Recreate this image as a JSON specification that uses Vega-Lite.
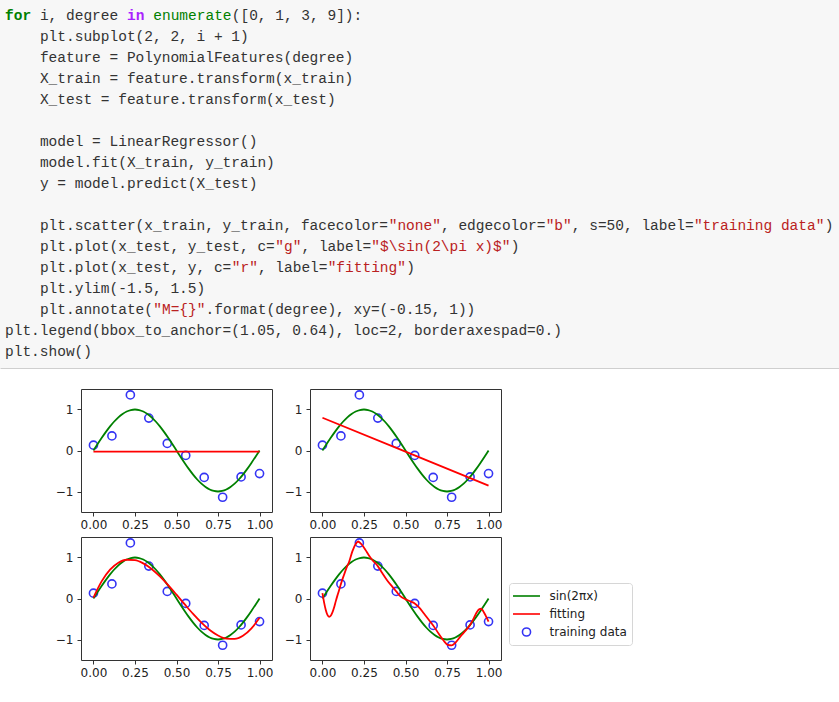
{
  "$schema": "https://vega.github.io/schema/vega-lite/v6.json",
  "background": "white",
  "padding": 0,
  "bounds": "flush",
  "spacing": 21,
  "resolve": {"scale": {"color": "independent", "shape": "independent"}},
  "config": {
    "view": {"stroke": "#333333", "strokeWidth": 1},
    "axis": {"grid": false, "domain": false, "tickColor": "#333333", "tickSize": 4, "labelFont": "DejaVu Sans", "labelFontSize": 12, "labelColor": "#222222"}
  },
  "datasets": {
    "code": [
      {"l": 0, "c": 0, "s": "for", "t": "k"},
      {"l": 0, "c": 4, "s": "i, degree", "t": "n"},
      {"l": 0, "c": 14, "s": "in", "t": "o"},
      {"l": 0, "c": 17, "s": "enumerate", "t": "b"},
      {"l": 0, "c": 26, "s": "([0, 1, 3, 9]):", "t": "n"},
      {"l": 1, "c": 4, "s": "plt.subplot(2, 2, i + 1)", "t": "n"},
      {"l": 2, "c": 4, "s": "feature = PolynomialFeatures(degree)", "t": "n"},
      {"l": 3, "c": 4, "s": "X_train = feature.transform(x_train)", "t": "n"},
      {"l": 4, "c": 4, "s": "X_test = feature.transform(x_test)", "t": "n"},
      {"l": 6, "c": 4, "s": "model = LinearRegressor()", "t": "n"},
      {"l": 7, "c": 4, "s": "model.fit(X_train, y_train)", "t": "n"},
      {"l": 8, "c": 4, "s": "y = model.predict(X_test)", "t": "n"},
      {"l": 10, "c": 4, "s": "plt.scatter(x_train, y_train, facecolor=", "t": "n"},
      {"l": 10, "c": 44, "s": "\"none\"", "t": "s"},
      {"l": 10, "c": 50, "s": ", edgecolor=", "t": "n"},
      {"l": 10, "c": 62, "s": "\"b\"", "t": "s"},
      {"l": 10, "c": 65, "s": ", s=50, label=", "t": "n"},
      {"l": 10, "c": 79, "s": "\"training data\"", "t": "s"},
      {"l": 10, "c": 94, "s": ")", "t": "n"},
      {"l": 11, "c": 4, "s": "plt.plot(x_test, y_test, c=", "t": "n"},
      {"l": 11, "c": 31, "s": "\"g\"", "t": "s"},
      {"l": 11, "c": 34, "s": ", label=", "t": "n"},
      {"l": 11, "c": 42, "s": "\"$\\sin(2\\pi x)$\"", "t": "s"},
      {"l": 11, "c": 58, "s": ")", "t": "n"},
      {"l": 12, "c": 4, "s": "plt.plot(x_test, y, c=", "t": "n"},
      {"l": 12, "c": 26, "s": "\"r\"", "t": "s"},
      {"l": 12, "c": 29, "s": ", label=", "t": "n"},
      {"l": 12, "c": 37, "s": "\"fitting\"", "t": "s"},
      {"l": 12, "c": 46, "s": ")", "t": "n"},
      {"l": 13, "c": 4, "s": "plt.ylim(-1.5, 1.5)", "t": "n"},
      {"l": 14, "c": 4, "s": "plt.annotate(", "t": "n"},
      {"l": 14, "c": 17, "s": "\"M={}\"", "t": "s"},
      {"l": 14, "c": 23, "s": ".format(degree), xy=(-0.15, 1))", "t": "n"},
      {"l": 15, "c": 0, "s": "plt.legend(bbox_to_anchor=(1.05, 0.64), loc=2, borderaxespad=0.)", "t": "n"},
      {"l": 16, "c": 0, "s": "plt.show()", "t": "n"}
    ],
    "train": [
      {"x": 0, "y": 0.13}, {"x": 0.1111, "y": 0.356}, {"x": 0.2222, "y": 1.356}, {"x": 0.3333, "y": 0.79},
      {"x": 0.4444, "y": 0.173}, {"x": 0.5556, "y": -0.12}, {"x": 0.6667, "y": -0.657}, {"x": 0.7778, "y": -1.14},
      {"x": 0.8889, "y": -0.644}, {"x": 1, "y": -0.563}
    ],
    "sin": [
      {"x": 0, "y": 0}, {"x": 0.025, "y": 0.1564}, {"x": 0.05, "y": 0.309}, {"x": 0.075, "y": 0.454},
      {"x": 0.1, "y": 0.5878}, {"x": 0.125, "y": 0.7071}, {"x": 0.15, "y": 0.809}, {"x": 0.175, "y": 0.891},
      {"x": 0.2, "y": 0.9511}, {"x": 0.225, "y": 0.9877}, {"x": 0.25, "y": 1}, {"x": 0.275, "y": 0.9877},
      {"x": 0.3, "y": 0.9511}, {"x": 0.325, "y": 0.891}, {"x": 0.35, "y": 0.809}, {"x": 0.375, "y": 0.7071},
      {"x": 0.4, "y": 0.5878}, {"x": 0.425, "y": 0.454}, {"x": 0.45, "y": 0.309}, {"x": 0.475, "y": 0.1564},
      {"x": 0.5, "y": 0}, {"x": 0.525, "y": -0.1564}, {"x": 0.55, "y": -0.309}, {"x": 0.575, "y": -0.454},
      {"x": 0.6, "y": -0.5878}, {"x": 0.625, "y": -0.7071}, {"x": 0.65, "y": -0.809}, {"x": 0.675, "y": -0.891},
      {"x": 0.7, "y": -0.9511}, {"x": 0.725, "y": -0.9877}, {"x": 0.75, "y": -1}, {"x": 0.775, "y": -0.9877},
      {"x": 0.8, "y": -0.9511}, {"x": 0.825, "y": -0.891}, {"x": 0.85, "y": -0.809}, {"x": 0.875, "y": -0.7071},
      {"x": 0.9, "y": -0.5878}, {"x": 0.925, "y": -0.454}, {"x": 0.95, "y": -0.309}, {"x": 0.975, "y": -0.1564},
      {"x": 1, "y": 0}
    ],
    "fit0": [{"x": 0, "y": -0.025}, {"x": 1, "y": -0.025}],
    "fit1": [{"x": 0, "y": 0.798}, {"x": 0.5, "y": -0.028}, {"x": 1, "y": -0.856}],
    "fit3": [
      {"x": 0, "y": 0.024}, {"x": 0.05, "y": 0.423}, {"x": 0.1, "y": 0.702}, {"x": 0.15, "y": 0.871},
      {"x": 0.2, "y": 0.945}, {"x": 0.25, "y": 0.936}, {"x": 0.3, "y": 0.856}, {"x": 0.35, "y": 0.72},
      {"x": 0.4, "y": 0.538}, {"x": 0.45, "y": 0.325}, {"x": 0.5, "y": 0.093}, {"x": 0.55, "y": -0.145},
      {"x": 0.6, "y": -0.377}, {"x": 0.65, "y": -0.589}, {"x": 0.7, "y": -0.768}, {"x": 0.75, "y": -0.903},
      {"x": 0.8, "y": -0.98}, {"x": 0.85, "y": -0.986}, {"x": 0.9, "y": -0.908}, {"x": 0.95, "y": -0.734},
      {"x": 1, "y": -0.47}
    ],
    "fit9": [
      {"x": 0, "y": 0.13}, {"x": 0.01, "y": -0.1}, {"x": 0.02, "y": -0.28}, {"x": 0.03, "y": -0.4},
      {"x": 0.04, "y": -0.445}, {"x": 0.05, "y": -0.42}, {"x": 0.06, "y": -0.34}, {"x": 0.07, "y": -0.22},
      {"x": 0.08, "y": -0.07}, {"x": 0.09, "y": 0.07}, {"x": 0.1, "y": 0.2}, {"x": 0.1111, "y": 0.356},
      {"x": 0.13, "y": 0.58}, {"x": 0.15, "y": 0.8}, {"x": 0.16, "y": 0.89}, {"x": 0.18, "y": 1.15},
      {"x": 0.2, "y": 1.33}, {"x": 0.215, "y": 1.39}, {"x": 0.2222, "y": 1.37}, {"x": 0.24, "y": 1.3},
      {"x": 0.26, "y": 1.18}, {"x": 0.28, "y": 1.05}, {"x": 0.3, "y": 0.94}, {"x": 0.3333, "y": 0.79},
      {"x": 0.36, "y": 0.62}, {"x": 0.39, "y": 0.44}, {"x": 0.42, "y": 0.29}, {"x": 0.4444, "y": 0.173},
      {"x": 0.47, "y": 0.05}, {"x": 0.5, "y": -0.02}, {"x": 0.53, "y": -0.07}, {"x": 0.5556, "y": -0.12},
      {"x": 0.58, "y": -0.21}, {"x": 0.61, "y": -0.36}, {"x": 0.64, "y": -0.52}, {"x": 0.6667, "y": -0.657},
      {"x": 0.7, "y": -0.86}, {"x": 0.73, "y": -1.03}, {"x": 0.755, "y": -1.13}, {"x": 0.7778, "y": -1.142},
      {"x": 0.8, "y": -1.08}, {"x": 0.83, "y": -0.93}, {"x": 0.86, "y": -0.79}, {"x": 0.8889, "y": -0.644},
      {"x": 0.91, "y": -0.49}, {"x": 0.93, "y": -0.33}, {"x": 0.945, "y": -0.26}, {"x": 0.955, "y": -0.25},
      {"x": 0.965, "y": -0.29}, {"x": 0.975, "y": -0.36}, {"x": 0.99, "y": -0.48}, {"x": 1, "y": -0.563}
    ]
  },
  "vconcat": [
    {
      "width": 839,
      "height": 368,
      "view": {"fill": "#f7f7f7", "stroke": null},
      "data": {"name": "code"},
      "encoding": {
        "x": {"field": "c", "type": "quantitative", "scale": {"domain": [-0.573, 95.64], "nice": false, "zero": false},
              "axis": {"orient": "bottom", "domain": true, "domainColor": "#cfcfcf", "ticks": false, "labels": false, "title": null}},
        "y": {"field": "l", "type": "quantitative", "scale": {"domain": [-0.762, 16.762], "nice": false, "zero": false, "reverse": true}, "axis": null},
        "text": {"field": "s"},
        "color": {"field": "t", "type": "nominal", "scale": {"domain": ["n", "s", "b", "k", "o"], "range": ["#333333", "#BA2121", "#008000", "#008000", "#AA22FF"]}, "legend": null}
      },
      "layer": [
        {"transform": [{"filter": "datum.t != 'k' && datum.t != 'o'"}],
         "mark": {"type": "text", "align": "left", "baseline": "middle", "font": "Liberation Mono", "fontSize": 14.5}},
        {"transform": [{"filter": "datum.t == 'k' || datum.t == 'o'"}],
         "mark": {"type": "text", "align": "left", "baseline": "middle", "font": "Liberation Mono", "fontSize": 14.5, "fontWeight": "bold"}}
      ]
    },
    {
      "columns": 3,
      "spacing": {"row": 25, "column": 38},
      "bounds": "flush",
      "resolve": {"scale": {"color": "independent", "shape": "independent"}},
      "concat": [
        {"width": 43, "height": 123, "view": {"stroke": null}, "data": {"values": []}, "mark": "point"},
        {
          "width": 191, "height": 123,
          "encoding": {
            "x": {"field": "x", "type": "quantitative", "scale": {"domain": [-0.075, 1.075], "nice": false, "zero": false}, "axis": {"values": [0, 0.25, 0.5, 0.75, 1], "format": ".2f", "title": null, "labelPadding": 3}},
            "y": {"field": "y", "type": "quantitative", "scale": {"domain": [-1.5, 1.5], "nice": false, "zero": false}, "axis": {"values": [-1, 0, 1], "format": "d", "title": null, "labelPadding": 4}}
          },
          "layer": [
            {"data": {"name": "train"}, "mark": {"type": "point", "shape": "M-0.3,0A0.3,0.3,0,1,0,0.3,0A0.3,0.3,0,1,0,-0.3,0Z", "size": 729, "filled": false, "color": "#3434f4", "strokeWidth": 1.6, "opacity": 1}},
            {"data": {"name": "sin"}, "mark": {"type": "line", "color": "#008000", "strokeWidth": 1.8, "interpolate": "monotone"}},
            {"data": {"name": "fit0"}, "mark": {"type": "line", "color": "#ff0000", "strokeWidth": 1.8}}
          ]
        },
        {
          "width": 191, "height": 123,
          "encoding": {
            "x": {"field": "x", "type": "quantitative", "scale": {"domain": [-0.075, 1.075], "nice": false, "zero": false}, "axis": {"values": [0, 0.25, 0.5, 0.75, 1], "format": ".2f", "title": null, "labelPadding": 3}},
            "y": {"field": "y", "type": "quantitative", "scale": {"domain": [-1.5, 1.5], "nice": false, "zero": false}, "axis": {"values": [-1, 0, 1], "format": "d", "title": null, "labelPadding": 4}}
          },
          "layer": [
            {"data": {"name": "train"}, "mark": {"type": "point", "shape": "M-0.3,0A0.3,0.3,0,1,0,0.3,0A0.3,0.3,0,1,0,-0.3,0Z", "size": 729, "filled": false, "color": "#3434f4", "strokeWidth": 1.6, "opacity": 1}},
            {"data": {"name": "sin"}, "mark": {"type": "line", "color": "#008000", "strokeWidth": 1.8, "interpolate": "monotone"}},
            {"data": {"name": "fit1"}, "mark": {"type": "line", "color": "#ff0000", "strokeWidth": 1.8}}
          ]
        },
        {"width": 43, "height": 123, "view": {"stroke": null}, "data": {"values": []}, "mark": "point"},
        {
          "width": 191, "height": 123,
          "encoding": {
            "x": {"field": "x", "type": "quantitative", "scale": {"domain": [-0.075, 1.075], "nice": false, "zero": false}, "axis": {"values": [0, 0.25, 0.5, 0.75, 1], "format": ".2f", "title": null, "labelPadding": 3}},
            "y": {"field": "y", "type": "quantitative", "scale": {"domain": [-1.5, 1.5], "nice": false, "zero": false}, "axis": {"values": [-1, 0, 1], "format": "d", "title": null, "labelPadding": 4}}
          },
          "layer": [
            {"data": {"name": "train"}, "mark": {"type": "point", "shape": "M-0.3,0A0.3,0.3,0,1,0,0.3,0A0.3,0.3,0,1,0,-0.3,0Z", "size": 729, "filled": false, "color": "#3434f4", "strokeWidth": 1.6, "opacity": 1}},
            {"data": {"name": "sin"}, "mark": {"type": "line", "color": "#008000", "strokeWidth": 1.8, "interpolate": "monotone"}},
            {"data": {"name": "fit3"}, "mark": {"type": "line", "color": "#ff0000", "strokeWidth": 1.8, "interpolate": "monotone"}}
          ]
        },
        {
          "width": 191, "height": 123,
          "encoding": {
            "x": {"field": "x", "type": "quantitative", "scale": {"domain": [-0.075, 1.075], "nice": false, "zero": false}, "axis": {"values": [0, 0.25, 0.5, 0.75, 1], "format": ".2f", "title": null, "labelPadding": 3}},
            "y": {"field": "y", "type": "quantitative", "scale": {"domain": [-1.5, 1.5], "nice": false, "zero": false}, "axis": {"values": [-1, 0, 1], "format": "d", "title": null, "labelPadding": 4}}
          },
          "layer": [
            {"data": {"name": "train"},
             "mark": {"type": "point", "size": 182, "filled": false, "strokeWidth": 1.6, "opacity": 1},
             "encoding": {
               "color": {"datum": "training data", "scale": {"domain": ["sin(2πx)", "fitting", "training data"], "range": ["#008000", "#ff0000", "#3434f4"]},
                         "legend": {"orient": "none", "legendX": 199, "legendY": 46, "title": null, "padding": 5, "strokeColor": "#d6d6d6", "fillColor": "#ffffff", "cornerRadius": 3, "labelFont": "DejaVu Sans", "labelFontSize": 12, "labelColor": "#222222", "labelOffset": 15, "symbolOffset": 4.5, "symbolSize": 182, "symbolStrokeWidth": 1.6, "rowPadding": 4, "symbolFillColor": "transparent"}},
               "shape": {"datum": "training data", "scale": {"domain": ["sin(2πx)", "fitting", "training data"], "range": ["M-2,0H2", "M-2,0H2", "M-0.6,0A0.6,0.6,0,1,0,0.6,0A0.6,0.6,0,1,0,-0.6,0Z"]},
                         "legend": {"orient": "none", "legendX": 199, "legendY": 46, "title": null, "padding": 5, "strokeColor": "#d6d6d6", "fillColor": "#ffffff", "cornerRadius": 3, "labelFont": "DejaVu Sans", "labelFontSize": 12, "labelColor": "#222222", "labelOffset": 15, "symbolOffset": 4.5, "symbolSize": 182, "symbolStrokeWidth": 1.6, "rowPadding": 4, "symbolFillColor": "transparent"}}
             }},
            {"data": {"name": "sin"}, "mark": {"type": "line", "strokeWidth": 1.8, "interpolate": "monotone"},
             "encoding": {"color": {"datum": "sin(2πx)", "scale": {"domain": ["sin(2πx)", "fitting", "training data"], "range": ["#008000", "#ff0000", "#3434f4"]}}}},
            {"data": {"name": "fit9"}, "mark": {"type": "line", "strokeWidth": 1.8, "interpolate": "monotone"},
             "encoding": {"color": {"datum": "fitting", "scale": {"domain": ["sin(2πx)", "fitting", "training data"], "range": ["#008000", "#ff0000", "#3434f4"]}}}}
          ]
        }
      ]
    }
  ]
}
